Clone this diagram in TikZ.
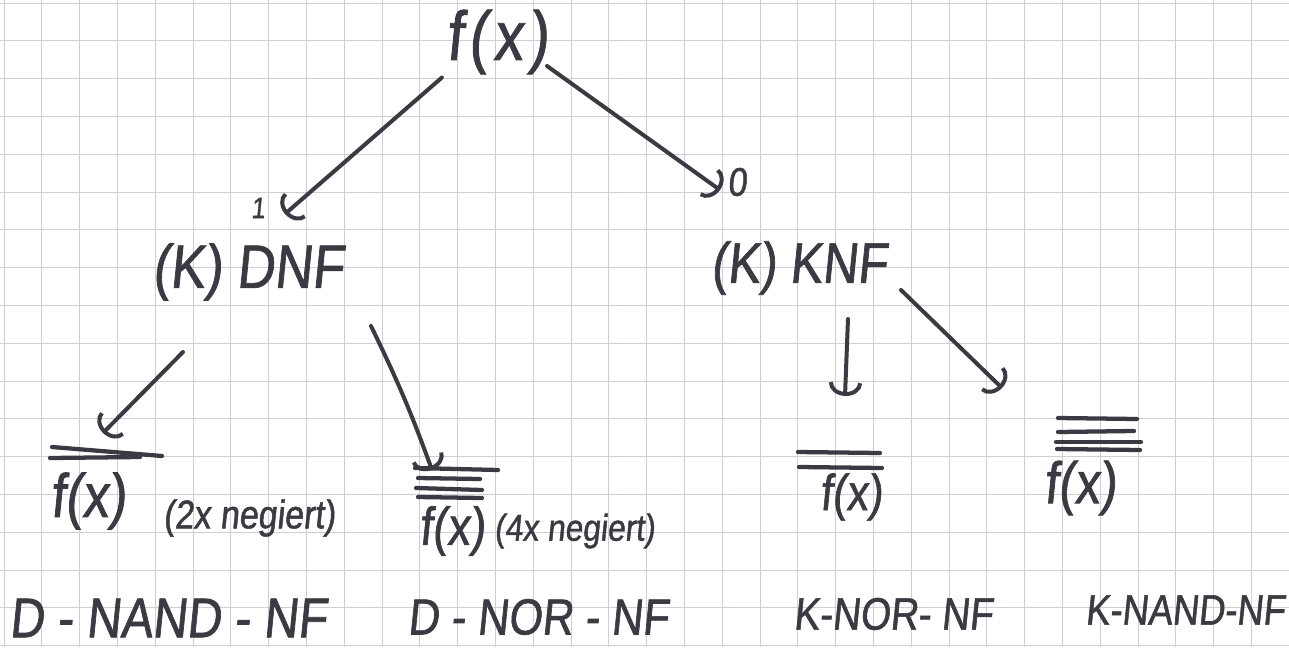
\documentclass[tikz,border=0pt]{standalone}
\usepackage{fontspec}
\setmainfont{Liberation Sans}
\newfontfamily\hand[FakeStretch=0.85,FakeSlant=0.1,FakeBold=1.2]{Liberation Sans}
\usetikzlibrary{arrows.meta,calc}
\definecolor{ink}{RGB}{58,58,66}
\definecolor{gridc}{RGB}{206,206,212}
\newcommand\hsz[1]{\fontsize{#1}{#1}\selectfont}
\tikzset{
  x=0.75pt, y=-0.75pt,
  gridline/.style={draw=gridc, line width=0.6pt},
  pen/.style={draw=ink, line width=3pt, line cap=round, line join=round},
  penarrow/.style={pen, -{Arc Barb[length=10pt, width=25pt, line width=3pt]}},
  bar/.style={draw=ink, line width=3.2pt, line cap=round},
  txt/.style={inner sep=0pt, text=ink, font=\hand},
}
\begin{document}
\begin{tikzpicture}
\useasboundingbox (0,0) rectangle (1289,647);
\fill[white] (0,0) rectangle (1289,647);
% squared paper
\foreach \i in {0,...,34} \draw[gridline] ({4+37.8*\i},0) -- ({4+37.8*\i},647);
\foreach \j in {0,...,17} \draw[gridline] (0,{3+37.8*\j}) -- (1289,{3+37.8*\j});

% tree labels
\node[txt, font=\hand\hsz{52}\addfontfeature{LetterSpace=8}] (top) at (497,42) {f(x)};
\node[txt, font=\hand\hsz{22}] (one) at (258,208) {1};
\node[txt, font=\hand\hsz{30}] (zero) at (737,182) {0};
\node[txt, font=\hand\hsz{46}] (dnf) at (248,272) {(K) DNF};
\node[txt, font=\hand\hsz{43}] (knf) at (799,268) {(K) KNF};

% negated forms
\node[txt, font=\hand\hsz{46}] (fa) at (88,501) {f(x)};
\node[txt, font=\hand\hsz{30}, anchor=west] (na) at (163,518) {(2x negiert)};
\node[txt, font=\hand\hsz{40}] (fb) at (452,531) {f(x)};
\node[txt, font=\hand\hsz{28}, anchor=west] (nb) at (494,531) {(4x negiert)};
\node[txt, font=\hand\hsz{38}] (fc) at (851,497) {f(x)};
\node[txt, font=\hand\hsz{44}] (fd) at (1080,488) {f(x)};

% negation bars
\draw[bar] (52,447) -- (162,456);
\draw[bar] (50,458) -- (140,457);
\draw[bar] (415,468) -- (498,470);
\draw[bar] (418,478) -- (480,479);
\draw[bar] (416,488) -- (482,490);
\draw[bar] (418,497) -- (482,498);
\draw[bar] (798,452) -- (880,453);
\draw[bar] (799,467) -- (882,468);
\draw[bar] (1058,418) -- (1137,419);
\draw[bar] (1058,432) -- (1134,431);
\draw[bar] (1056,442) -- (1141,442);
\draw[bar] (1057,449) -- (1140,450);

% names of the normal forms
\node[txt, font=\hand\hsz{42}] (la) at (168,618) {D - NAND - NF};
\node[txt, font=\hand\hsz{38}] (lb) at (538,617) {D - NOR - NF};
\node[txt, font=\hand\hsz{34}] (lc) at (893,614) {K-NOR- NF};
\node[txt, font=\hand\hsz{32}] (ld) at (1185,610) {K-NAND-NF};

% arrow ends
\coordinate (e1) at (285,214);
\coordinate (e0) at (720,190);
\coordinate (s0) at (547,66);
\coordinate (ed1) at (103,433);
\coordinate (sd1) at (183,352);
\coordinate (ed2) at (432,470);
\coordinate (sd2) at (371,326);
\coordinate (ek1) at (845,396);
\coordinate (sk1) at (848,319);
\coordinate (ek2) at (1002,388);
\coordinate (sk2) at (901,290);

% connectors
\draw[penarrow] ($(top.south west)+(-4,3)$) -- (e1);
\draw[penarrow] (s0) -- (e0);
\draw[penarrow] (sd1) -- (ed1);
\draw[penarrow] (sd2) to[bend left=3] (ed2);
\draw[penarrow] (sk1) -- (ek1);
\draw[penarrow] (sk2) -- (ek2);
\end{tikzpicture}
\end{document}
